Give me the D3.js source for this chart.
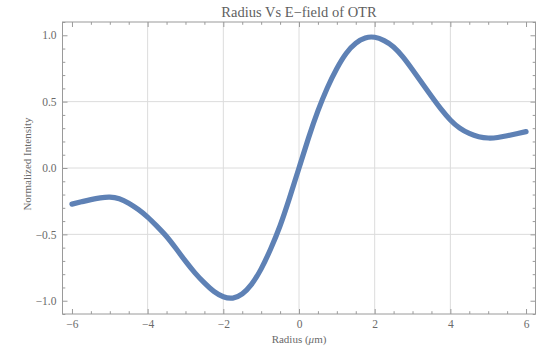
<!DOCTYPE html>
<html>
<head>
<meta charset="utf-8">
<script src="https://cdn.jsdelivr.net/npm/d3@7"></script>
<style>
  body { margin: 0; background: #fff; }
  svg text { font-family: "Liberation Serif", "DejaVu Serif", serif; }
</style>
</head>
<body>
<div id="chart"></div>
<script>
// radius (um) and normalized field
const radius = [-6, -5.75, -5.5, -5.25, -5, -4.75, -4.5, -4.25, -4, -3.75, -3.5, -3.25, -3,
  -2.75, -2.5, -2.25, -2, -1.75, -1.5, -1.25, -1, -0.75, -0.5, -0.25, 0,
  0.25, 0.5, 0.75, 1, 1.25, 1.5, 1.75, 2, 2.25, 2.5, 2.75, 3,
  3.25, 3.5, 3.75, 4, 4.25, 4.5, 4.75, 5, 5.25, 5.5, 5.75, 6];
const intensity = [-0.272, -0.255, -0.238, -0.225, -0.22, -0.232, -0.265, -0.312, -0.37, -0.44, -0.516, -0.607, -0.702,
  -0.79, -0.866, -0.93, -0.97, -0.98, -0.948, -0.875, -0.76, -0.61, -0.435, -0.225, 0,
  0.225, 0.43, 0.605, 0.75, 0.865, 0.94, 0.98, 0.985, 0.96, 0.912, 0.835, 0.74,
  0.64, 0.54, 0.445, 0.362, 0.3, 0.26, 0.236, 0.226, 0.23, 0.243, 0.258, 0.274];

const xMajor = [-6, -4, -2, 0, 2, 4, 6];
const yMajor = [-1, -0.5, 0, 0.5, 1];
const xGrid = [-4, -2, 0, 2, 4];
const yGrid = [-0.5, 0, 0.5];

const title = "Radius Vs E\u2212field of OTR";
const yTitle = "Normalized Intensity";

const W = 538, H = 349;
const margin = {top: 22, right: 2.5, bottom: 35, left: 62.5};
const width = W - margin.left - margin.right;
const height = H - margin.top - margin.bottom;

const frameColor = "#9a9a9a";
const textColor = "#6a6a6a";

const svg = d3.select("#chart").append("svg")
  .attr("width", W).attr("height", H);

const g = svg.append("g")
  .attr("transform", "translate(" + margin.left + "," + margin.top + ")");

const x = d3.scaleLinear().domain([-6.25, 6.25]).range([0, width]);
const y = d3.scaleLinear().domain([-1.1, 1.1]).range([height, 0]);

// grid
g.append("g").selectAll("line").data(xGrid).enter().append("line")
  .attr("x1", d => x(d)).attr("x2", d => x(d))
  .attr("y1", 0).attr("y2", height)
  .attr("stroke", "#dcdcdc").attr("stroke-width", 1);
g.append("g").selectAll("line").data(yGrid).enter().append("line")
  .attr("y1", d => y(d)).attr("y2", d => y(d))
  .attr("x1", 0).attr("x2", width)
  .attr("stroke", "#dcdcdc").attr("stroke-width", 1);

const fmtX = d => d3.format("d")(d).replace("-", "\u2212");
const fmtY = d => d3.format(".1f")(d).replace("-", "\u2212");

const xMinor = d3.range(-6, 6.01, 0.5).filter(v => Math.abs(v % 2) > 1e-9);
const yMinor = d3.range(-11, 12).map(v => v / 10).filter(v => Math.abs(Math.round(v * 10) % 5) !== 0);

function frameAxis(axisFn, pos, scale, major, minor, fmt) {
  const a = g.append("g").attr("transform", pos)
    .call(axisFn(scale).tickValues(major).tickSizeInner(-5).tickSizeOuter(0).tickPadding(6).tickFormat(fmt));
  const b = g.append("g").attr("transform", pos)
    .call(axisFn(scale).tickValues(minor).tickSizeInner(-2.8).tickSizeOuter(0).tickFormat(""));
  [a, b].forEach(s => {
    s.select(".domain").remove();
    s.selectAll("line").attr("stroke", frameColor);
    s.selectAll("text").attr("fill", textColor).style("font-size", "11.5px")
      .style("font-family", "Liberation Serif, serif");
  });
  return a;
}

frameAxis(d3.axisBottom, "translate(0," + height + ")", x, xMajor, xMinor, fmtX);
frameAxis(d3.axisLeft, "translate(0,0)", y, yMajor, yMinor, fmtY);
frameAxis(d3.axisTop, "translate(0,0)", x, xMajor, xMinor, "");
frameAxis(d3.axisRight, "translate(" + width + ",0)", y, yMajor, yMinor, "");

// frame
g.append("rect").attr("x", 0).attr("y", 0).attr("width", width).attr("height", height)
  .attr("fill", "none").attr("stroke", frameColor).attr("stroke-width", 1);

// curve
const data = radius.map((r, i) => [r, intensity[i]]);
g.append("path").datum(data)
  .attr("fill", "none")
  .attr("stroke", "#5e81b5")
  .attr("stroke-width", 5.2)
  .attr("stroke-linecap", "round")
  .attr("stroke-linejoin", "round")
  .attr("d", d3.line().curve(d3.curveNatural)
    .x(d => x(d[0]))
    .y(d => y(d[1])));

// titles
svg.append("text").attr("x", margin.left + x(0)).attr("y", 17)
  .attr("text-anchor", "middle").attr("fill", "#5f5f5f")
  .style("font-size", "14.5px").text(title);

const xt = svg.append("text").attr("x", margin.left + x(0)).attr("y", 343)
  .attr("text-anchor", "middle").attr("fill", textColor)
  .style("font-size", "11px");
xt.append("tspan").text("Radius (");
xt.append("tspan").style("font-style", "italic").text("\u03bc");
xt.append("tspan").text("m)");

svg.append("text")
  .attr("transform", "translate(31," + (margin.top + y(0) - 4) + ") rotate(-90)")
  .attr("text-anchor", "middle").attr("fill", textColor)
  .style("font-size", "11px").text(yTitle);
</script>
</body>
</html>
